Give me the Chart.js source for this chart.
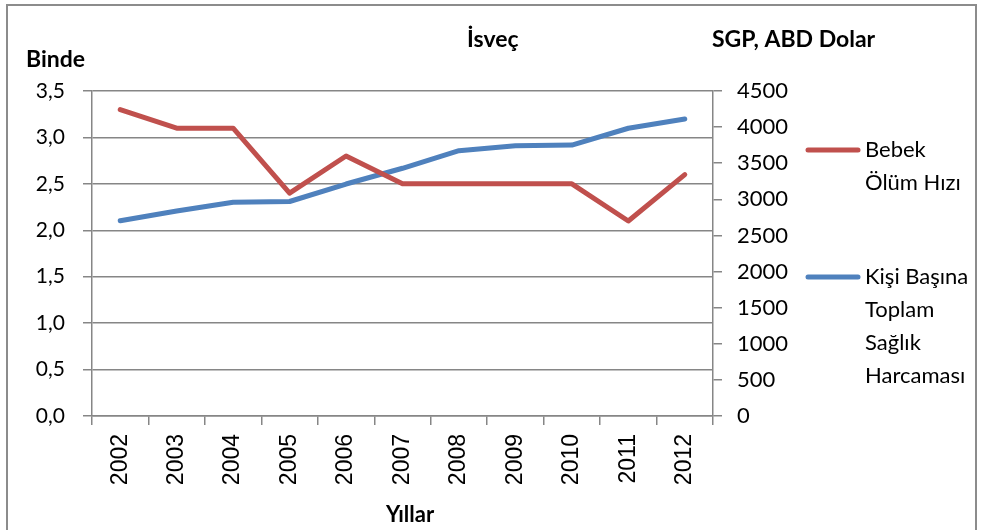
<!DOCTYPE html>
<html>
<head>
<meta charset="utf-8">
<script src="https://cdn.jsdelivr.net/npm/chart.js@4.4.7/dist/chart.umd.min.js"></script>
<style>
  html, body { margin: 0; padding: 0; background: #fff; }
  #wrap { width: 981px; height: 530px; position: relative; }
</style>
</head>
<body>
<div id="wrap"><canvas id="chart"></canvas></div>
<script>
const years = ['2002', '2003', '2004', '2005', '2006', '2007', '2008', '2009', '2010', '2011', '2012'];
const infantMortality = [3.3, 3.1, 3.1, 2.4, 2.8, 2.5, 2.5, 2.5, 2.5, 2.1, 2.6];
const healthSpending = [2704, 2838, 2960, 2970, 3212, 3430, 3673, 3742, 3752, 3984, 4112];
const mortalityLegend = ['Bebek', 'Ölüm Hızı'];
const spendingLegend = ['Kişi Başına', 'Toplam', 'Sağlık', 'Harcaması'];

const gray = '#868686';
const font = 'Lato, "Open Sans", sans-serif';
const yearFont = '"Liberation Sans", Arial, sans-serif';

// frame, headings and the wrapped legend are drawn by hand
const extras = {
  id: 'extras',
  beforeDraw(chart) {
    const ctx = chart.ctx;
    ctx.save();
    ctx.strokeStyle = '#8c8c8c';
    ctx.lineWidth = 2;
    ctx.strokeRect(7, 5, 969, 600);
    ctx.restore();
  },
  afterDraw(chart) {
    const ctx = chart.ctx;
    ctx.save();
    ctx.fillStyle = '#000';
    ctx.textBaseline = 'alphabetic';
    ctx.font = 'bold 23px ' + font;
    ctx.textAlign = 'left';
    ctx.fillText('İsveç', 467, 47);
    ctx.fillText('SGP, ABD Dolar', 712, 47);
    ctx.fillText('Binde', 26, 67);
    ctx.textAlign = 'center';
    ctx.font = 'bold 22px ' + font;
    ctx.fillText('Yıllar', 410, 522);

    const items = [
      { lines: mortalityLegend, color: chart.data.datasets[0].borderColor, y: 150 },
      { lines: spendingLegend, color: chart.data.datasets[1].borderColor, y: 277 }
    ];
    ctx.textAlign = 'left';
    ctx.textBaseline = 'middle';
    ctx.font = '22px ' + font;
    ctx.lineCap = 'round';
    ctx.lineWidth = 5;
    items.forEach(it => {
      ctx.strokeStyle = it.color;
      ctx.beginPath();
      ctx.moveTo(808, it.y);
      ctx.lineTo(858, it.y);
      ctx.stroke();
      it.lines.forEach((t, i) => ctx.fillText(t, 865, it.y + i * 33));
    });
    ctx.restore();
  }
};

new Chart(document.getElementById('chart'), {
  type: 'line',
  data: {
    labels: years,
    datasets: [{
      label: 'Bebek Ölüm Hızı',
      data: infantMortality,
      yAxisID: 'y',
      borderColor: '#C0504D',
      borderWidth: 5,
      borderCapStyle: 'round',
      borderJoinStyle: 'round',
      pointRadius: 0,
      tension: 0
    }, {
      label: 'Kişi Başına Toplam Sağlık Harcaması',
      data: healthSpending,
      yAxisID: 'y1',
      borderColor: '#4F81BD',
      borderWidth: 5,
      borderCapStyle: 'round',
      borderJoinStyle: 'round',
      pointRadius: 0,
      tension: 0
    }]
  },
  options: {
    responsive: true,
    maintainAspectRatio: false,
    animation: false,
    layout: { padding: { top: 91, right: 181, bottom: 0, left: 0 } },
    plugins: { legend: { display: false }, tooltip: { enabled: false } },
    scales: {
      x: {
        offset: true,
        grid: { offset: true, drawOnChartArea: false, color: gray, lineWidth: 1.5, tickLength: 9 },
        border: { color: gray, width: 1.5 },
        ticks: { minRotation: 90, maxRotation: 90, color: '#000', font: { family: yearFont, size: 23 }, padding: 9 },
        afterFit: s => { s.height = 114; }
      },
      y: {
        position: 'left',
        min: 0,
        max: 3.5,
        ticks: { stepSize: 0.5, color: '#000', font: { family: font, size: 21 }, padding: 18,
          callback: v => v.toFixed(1).replace('.', ',') },
        grid: { color: gray, lineWidth: 1.5, tickLength: 9 },
        border: { color: gray, width: 1.5 },
        afterFit: s => { s.width = 92; }
      },
      y1: {
        position: 'right',
        min: 0,
        max: 4500,
        ticks: { stepSize: 500, color: '#000', font: { family: font, size: 22 }, padding: 15,
          callback: v => String(v) },
        grid: { drawOnChartArea: false, color: gray, lineWidth: 1.5, tickLength: 9 },
        border: { color: gray, width: 1.5 },
        afterFit: s => { s.width = 87; }
      }
    }
  },
  plugins: [extras]
});
</script>
</body>
</html>
